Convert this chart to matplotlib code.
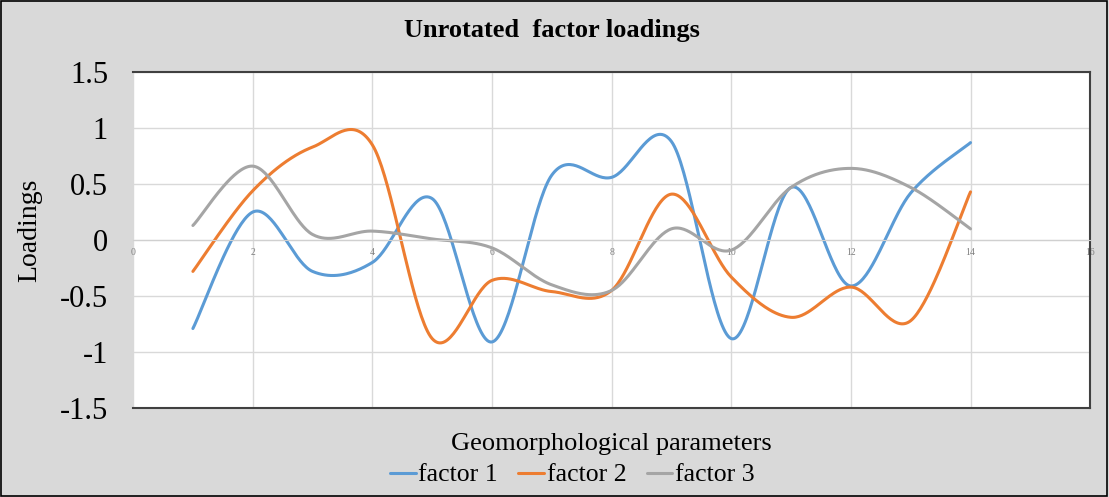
import numpy as np
import matplotlib.pyplot as plt
from matplotlib.patches import Rectangle

params = np.arange(1, 15)
factor1 = [-0.79, 0.25, -0.28, -0.20, 0.37, -0.91, 0.58, 0.56, 0.88, -0.88, 0.47, -0.41, 0.42, 0.87]
factor2 = [-0.28, 0.44, 0.83, 0.85, -0.88, -0.36, -0.46, -0.45, 0.41, -0.33, -0.69, -0.42, -0.72, 0.43]
factor3 = [0.13, 0.66, 0.05, 0.08, 0.01, -0.07, -0.40, -0.45, 0.10, -0.09, 0.47, 0.64, 0.47, 0.10]
names = ['factor 1', 'factor 2', 'factor 3']
colors = ['#5B9BD5', '#ED7D31', '#A5A5A5']


def smooth(x, y, n=40):
    # excel-like smoothed line: bezier with catmull-rom control points
    x = np.asarray(x, float)
    y = np.asarray(y, float)
    px = np.concatenate([[x[0]], x, [x[-1]]])
    py = np.concatenate([[y[0]], y, [y[-1]]])
    t = np.linspace(0, 1, n)
    xs, ys = [], []
    for i in range(len(x) - 1):
        p0 = np.array([px[i + 1], py[i + 1]])
        p3 = np.array([px[i + 2], py[i + 2]])
        c1 = p0 + (np.array([px[i + 2], py[i + 2]]) - np.array([px[i], py[i]])) / 6
        c2 = p3 - (np.array([px[i + 3], py[i + 3]]) - np.array([px[i + 1], py[i + 1]])) / 6
        b = ((1 - t) ** 3)[:, None] * p0 + (3 * (1 - t) ** 2 * t)[:, None] * c1 \
            + (3 * (1 - t) * t ** 2)[:, None] * c2 + (t ** 3)[:, None] * p3
        xs.append(b[:, 0])
        ys.append(b[:, 1])
    return np.concatenate(xs), np.concatenate(ys)


plt.rcParams['font.family'] = ['Liberation Serif', 'DejaVu Serif']

fig = plt.figure(figsize=(11.09, 4.97), dpi=100, facecolor='#d9d9d9')
fig.patches.append(Rectangle((0.001, 0.002), 0.997, 0.996, transform=fig.transFigure,
                             fill=False, edgecolor='black', lw=1.2))
ax = fig.add_axes([0.12, 0.179, 0.863, 0.676])
ax.set_facecolor('white')

for ys, name, c in zip([factor1, factor2, factor3], names, colors):
    sx, sy = smooth(params, ys)
    ax.plot(sx, sy, color=c, lw=2.2, label=name, solid_capstyle='round')

ax.set_xlim(0, 16)
ax.set_ylim(-1.5, 1.5)
ax.set_xticks(range(0, 17, 2))
ax.set_yticks([-1.5, -1, -0.5, 0, 0.5, 1, 1.5])
ax.set_yticklabels(['-1.5', '-1', '-0.5', '0', '0.5', '1', '1.5'])
ax.grid(True, color='#d9d9d9', lw=1)
ax.set_axisbelow(True)

ax.spines['bottom'].set_position(('data', 0))
ax.spines['bottom'].set_color('#d0d0d0')
ax.spines['left'].set_visible(False)
for s in ['top', 'right']:
    ax.spines[s].set_color('#404040')
    ax.spines[s].set_linewidth(1.5)
ax.axhline(-1.5, color='#404040', lw=1.5, clip_on=False)
ax.tick_params(axis='x', length=0, labelsize=7, labelcolor='#808080', pad=6)
ax.tick_params(axis='y', length=0, labelsize=22, pad=18)

fig.text(0.498, 1 - 30 / 497, 'Unrotated  factor loadings', fontsize=19, fontweight='bold',
         ha='center', va='center')
ax.set_xlabel('Geomorphological parameters', fontsize=19)
ax.xaxis.set_label_coords(0.5, -0.075)
ax.set_ylabel('Loadings', fontsize=20)
ax.yaxis.set_label_coords(-0.095, 0.53)

fig.legend(loc='center', bbox_to_anchor=(0.516, 1 - 475 / 497), ncol=3, frameon=False,
           fontsize=18.5, handlelength=1.0, handletextpad=0.1, columnspacing=0.8)

fig.savefig('out.png', dpi=100, facecolor=fig.get_facecolor())
